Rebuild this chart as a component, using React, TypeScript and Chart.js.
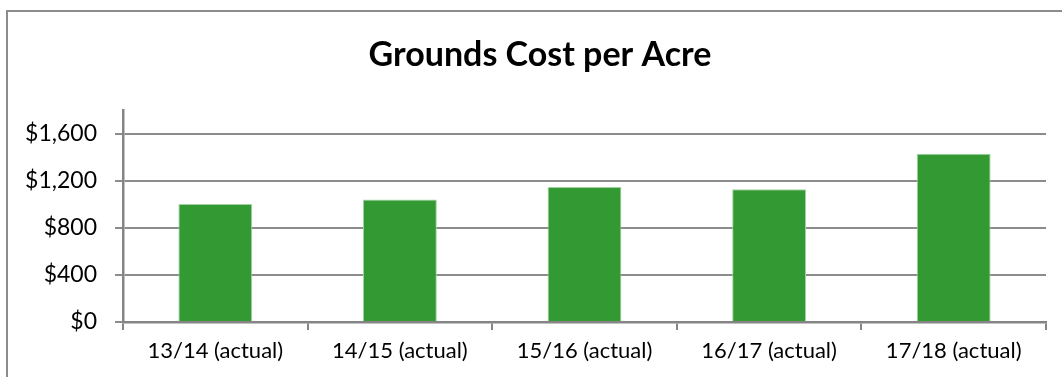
import React, { useEffect, useRef } from "react";
import { Chart, registerables } from "chart.js";

Chart.register(...registerables);

const categories = ["13/14 (actual)", "14/15 (actual)", "15/16 (actual)", "16/17 (actual)", "17/18 (actual)"];
const costPerAcre = [1001, 1040, 1147, 1128, 1429];
const yTicks = [0, 400, 800, 1200, 1600];
const chartTitle = "Grounds Cost per Acre";

const titlePlugin = {
  id: "offsetTitle",
  afterDraw(chart: any) {
    const ctx = chart.ctx;
    ctx.save();
    ctx.font = "bold 34px Lato";
    ctx.fillStyle = "#000";
    ctx.textAlign = "center";
    ctx.textBaseline = "alphabetic";
    ctx.fillText(chartTitle, 540, 66);
    ctx.restore();
  },
};

export default function App() {
  const ref = useRef<HTMLCanvasElement | null>(null);
  useEffect(() => {
    if (!ref.current) return;
    const chart = new Chart(ref.current, {
      type: "bar",
      data: {
        labels: categories,
        datasets: [
          {
            data: costPerAcre,
            backgroundColor: "#339933",
            borderColor: "#a3d3a3",
            borderWidth: 1,
            barPercentage: 0.4,
            categoryPercentage: 1,
          },
        ],
      },
      plugins: [titlePlugin],
      options: {
        animation: false,
        responsive: false,
        maintainAspectRatio: false,
        layout: { padding: { top: 110, right: 16, left: 0, bottom: 0 } },
        plugins: {
          legend: { display: false },
          tooltip: { enabled: false },
          title: { display: false },
        },
        scales: {
          x: {
            grid: {
              display: true,
              offset: true,
              drawOnChartArea: false,
              drawTicks: true,
              tickLength: 8,
              color: "#858585",
              lineWidth: 2,
            },
            border: { display: true, color: "#858585", width: 2.5 },
            ticks: {
              color: "#000",
              font: { family: "Lato", size: 22 },
              padding: 8,
              maxRotation: 0,
              autoSkip: false,
            },
            afterFit: (s: any) => {
              s.height = 55;
            },
          },
          y: {
            min: 0,
            max: 1800,
            afterBuildTicks: (s: any) => {
              s.ticks = yTicks.map((v) => ({ value: v }));
            },
            grid: {
              color: "#8c8c8c",
              lineWidth: 2,
              tickLength: 8,
            },
            border: { display: true, color: "#858585", width: 2.5 },
            ticks: {
              color: "#000",
              font: { family: "Lato", size: 23 },
              padding: 18,
              callback: (v: any) => "$" + Number(v).toLocaleString("en-US"),
            },
            afterFit: (s: any) => {
              s.width = 123;
            },
          },
        },
      },
    });
    return () => chart.destroy();
  }, []);
  return (
    <div style={{ position: "fixed", left: 0, top: 0, width: 1062, height: 377, overflow: "hidden", background: "#fff" }}>
      <div
        style={{
          position: "absolute",
          left: 6,
          top: 10,
          width: 1100,
          height: 400,
          borderLeft: "2px solid #8c8c8c",
          borderTop: "2px solid #8c8c8c",
        }}
      />
      <canvas ref={ref} width={1062} height={377} style={{ position: "absolute", left: 0, top: 0 }} />
    </div>
  );
}
